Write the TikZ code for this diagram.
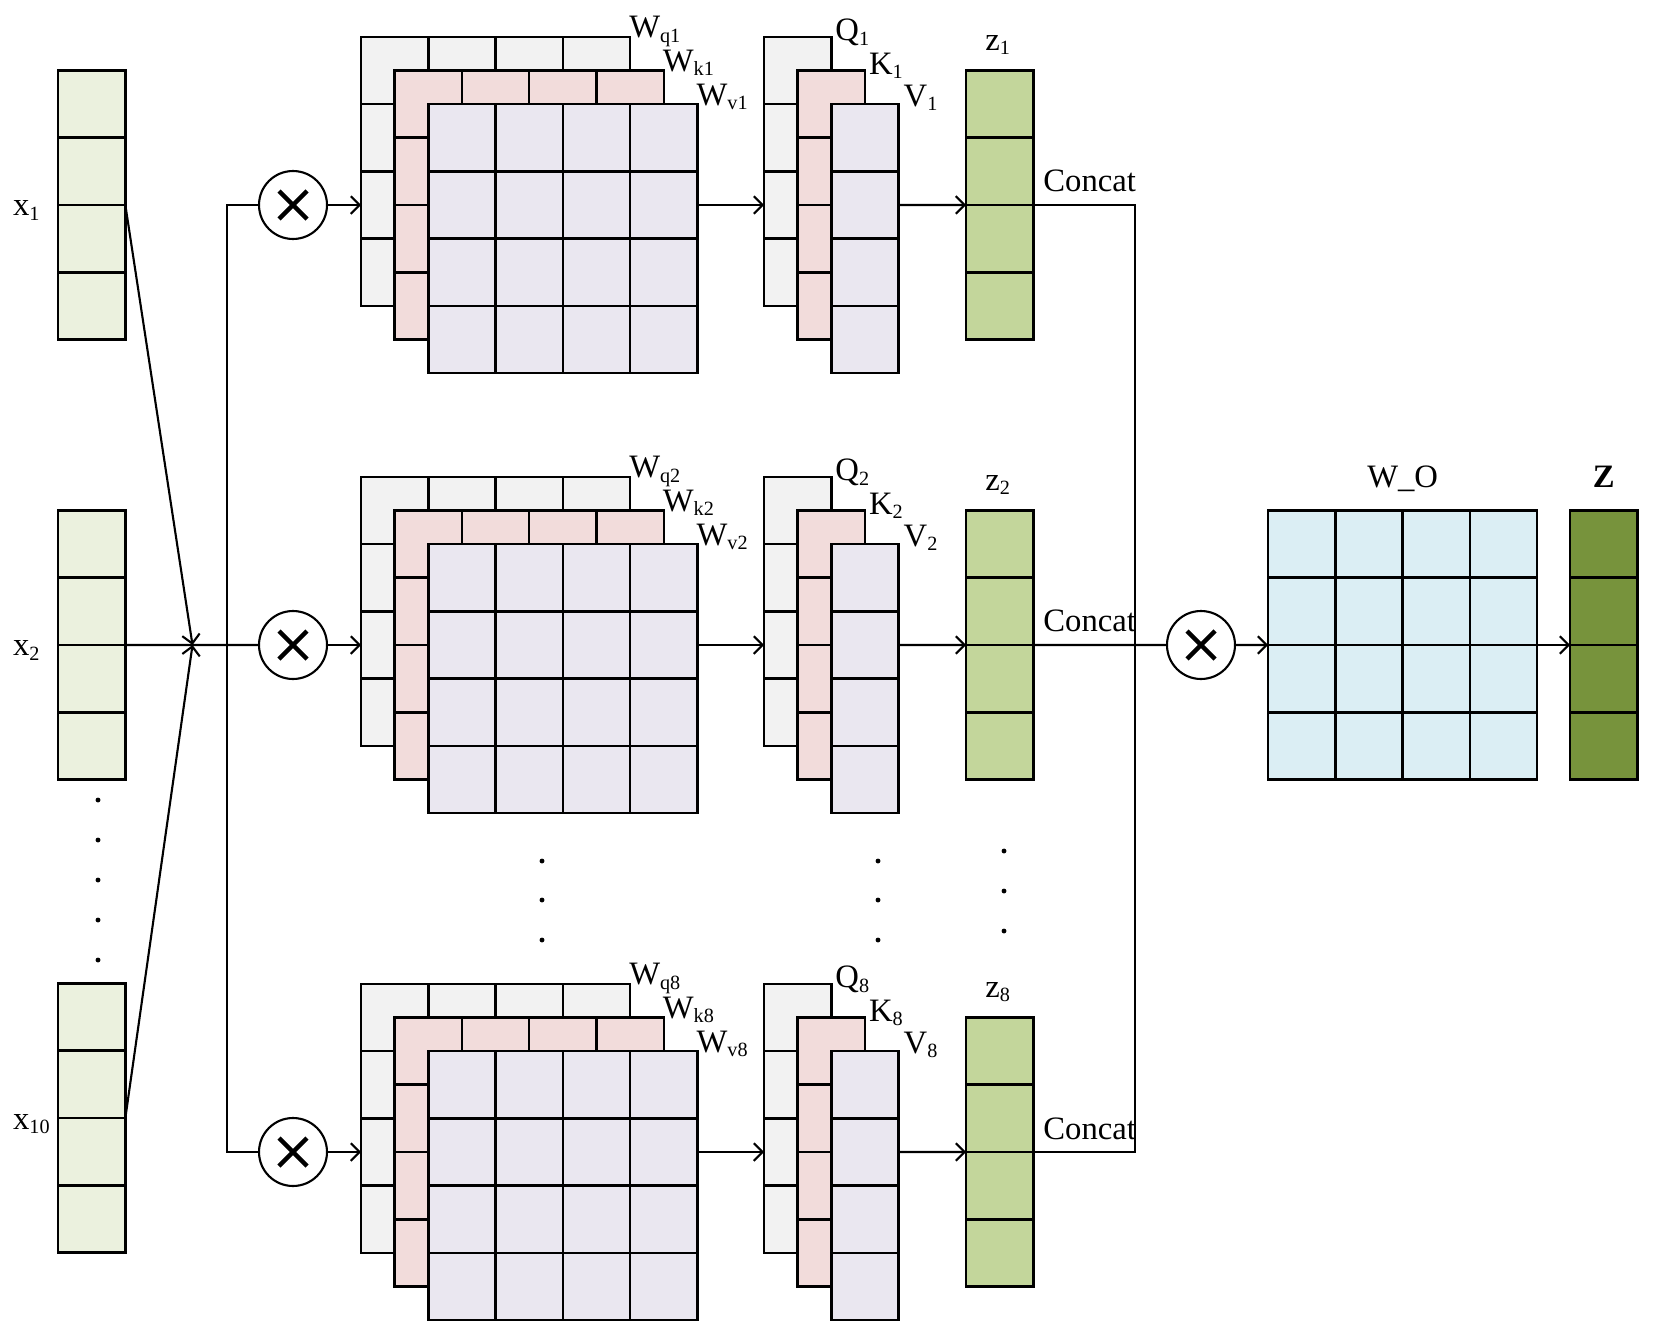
\documentclass[tikz,border=0pt]{standalone}
\usepackage{fontspec}
\setmainfont{Liberation Serif}
\usetikzlibrary{arrows.meta}

\definecolor{xcol}{HTML}{EBF1DE}
\definecolor{qcol}{HTML}{F2F2F2}
\definecolor{kcol}{HTML}{F2DCDB}
\definecolor{vcol}{HTML}{EAE7F0}
\definecolor{zcol}{HTML}{C3D69B}
\definecolor{wocol}{HTML}{DBEEF4}
\definecolor{outcol}{HTML}{77933C}

\newcommand{\subtxt}[1]{\raisebox{-2.5pt}{\fontsize{11.5}{12}\selectfont #1}}

\tikzset{
  cell/.style={draw, line width=1.4pt, inner sep=0pt, outer sep=0pt, minimum width=1.346cm, minimum height=1.346cm},
  mul/.style={draw, circle, line width=1.2pt, minimum size=1.36cm, inner sep=0pt, outer sep=0pt, fill=white},
  lbl/.style={inner sep=0pt, font=\fontsize{18.6}{22}\selectfont},
}

\begin{document}
\begin{tikzpicture}[x=0.02cm, y=-0.02cm, line width=1.2pt,
    >={Straight Barb[length=5pt,width=10pt]}]
  \useasboundingbox (0,0) rectangle (1654,1335);

  % inputs
  \foreach \i/\yc in {1/205, 2/645, 10/1118} {
    \foreach \k in {1,...,4}
      \node[cell, fill=xcol] (x\i-\k) at (91.7, \yc-100.95+67.3*\k-67.3) {};
    \node[lbl, anchor=base west] at ([shift={(-46,11)}]x\i-2.south west) {x\subtxt{\i}};
  }
  \foreach \y in {800,840,...,960}
    \fill (98,\y) circle (1.4pt);

  % heads
  \foreach \r/\yc in {1/205, 2/645, 8/1152} {
    \foreach \i in {1,...,4} \foreach \j in {1,...,4}
      \node[cell, fill=qcol] (wq\r-\i-\j) at (394.7+67.3*\j-67.3, \yc-134.6+67.3*\i-67.3) {};
    \foreach \i in {1,...,4} \foreach \j in {1,...,4}
      \node[cell, fill=kcol] (wk\r-\i-\j) at (428.3+67.3*\j-67.3, \yc-100.95+67.3*\i-67.3) {};
    \foreach \i in {1,...,4} \foreach \j in {1,...,4}
      \node[cell, fill=vcol] (wv\r-\i-\j) at (462+67.3*\j-67.3, \yc-67.3+67.3*\i-67.3) {};
    \foreach \k in {1,...,4}
      \node[cell, fill=qcol] (q\r-\k) at (797.7, \yc-134.6+67.3*\k-67.3) {};
    \foreach \k in {1,...,4}
      \node[cell, fill=kcol] (k\r-\k) at (831.3, \yc-100.95+67.3*\k-67.3) {};
    \foreach \k in {1,...,4}
      \node[cell, fill=vcol] (v\r-\k) at (865, \yc-67.3+67.3*\k-67.3) {};
    \foreach \k in {1,...,4}
      \node[cell, fill=zcol] (z\r-\k) at (999.7, \yc-100.95+67.3*\k-67.3) {};
    \node[mul] (mul\r) at (293,\yc) {};
    \draw[line width=2.5pt] (mul\r.center) +(-14,-14) -- +(14,14)
      (mul\r.center) +(-14,14) -- +(14,-14);

    \node[lbl, anchor=base west] at ([shift={(-2,1)}]wq\r-1-4.north east) {W\subtxt{q\r}};
    \node[lbl, anchor=base west] at ([shift={(-2,1)}]wk\r-1-4.north east) {W\subtxt{k\r}};
    \node[lbl, anchor=base west] at ([shift={(-2,1)}]wv\r-1-4.north east) {W\subtxt{v\r}};
    \node[lbl, anchor=base west] at ([shift={(3,4)}]q\r-1.north east) {Q\subtxt{\r}};
    \node[lbl, anchor=base west] at ([shift={(3,4)}]k\r-1.north east) {K\subtxt{\r}};
    \node[lbl, anchor=base west] at ([shift={(4,2)}]v\r-1.north east) {V\subtxt{\r}};
    \node[lbl, anchor=base] at ([shift={(-2,-20)}]z\r-1.north) {z\subtxt{\r}};
    \node[lbl, anchor=base west] at ([shift={(9,-13)}]z\r-2.south east) {Concat};

    \draw[->] (mul\r.east) -- (wq\r-3-1.west);
    \draw[->] (wv\r-2-4.east) -- (q\r-3.west);
    \draw[->] (v\r-2.east) -- (z\r-2.south west);
  }
  \foreach \x/\y in {542/861, 542/900, 542/940, 878/861, 878/900, 878/940,
      1004/851, 1004/891, 1004/931}
    \fill (\x,\y) circle (1.4pt);

  % output
  \foreach \i in {1,...,4} \foreach \j in {1,...,4}
    \node[cell, fill=wocol] (wo-\i-\j) at (1301.7+67.3*\j-67.3, 544.05+67.3*\i-67.3) {};
  \foreach \k in {1,...,4}
    \node[cell, fill=outcol] (zz-\k) at (1603.7, 544.05+67.3*\k-67.3) {};
  \node[mul] (mulo) at (1201,645) {};
  \draw[line width=2.5pt] (mulo.center) +(-14,-14) -- +(14,14)
    (mulo.center) +(-14,14) -- +(14,-14);
  \node[lbl, anchor=base] at ([shift={(0,-23)}]wo-1-2.north east) {W\_O};
  \node[lbl, anchor=base] at ([shift={(0,-23)}]zz-1.north) {\textbf{Z}};

  % connections
  \coordinate (join) at (192.5,645);
  \draw[->] (x1-2.south east) -- (join);
  \draw[->] (x10-2.south east) -- (join);
  \draw (x2-2.south east) -- (mul2.west);
  \draw (mul1.west) -- ++(-32,0) |- (mul8.west);
  \draw (z1-2.south east) -- ++(102,0) |- (z8-2.south east);
  \draw (z2-2.south east) -- (mulo.west);
  \draw[->] (mulo.east) -- (wo-2-1.south west);
  \draw[->] (wo-2-4.south east) -- (zz-2.south west);
\end{tikzpicture}
\end{document}
